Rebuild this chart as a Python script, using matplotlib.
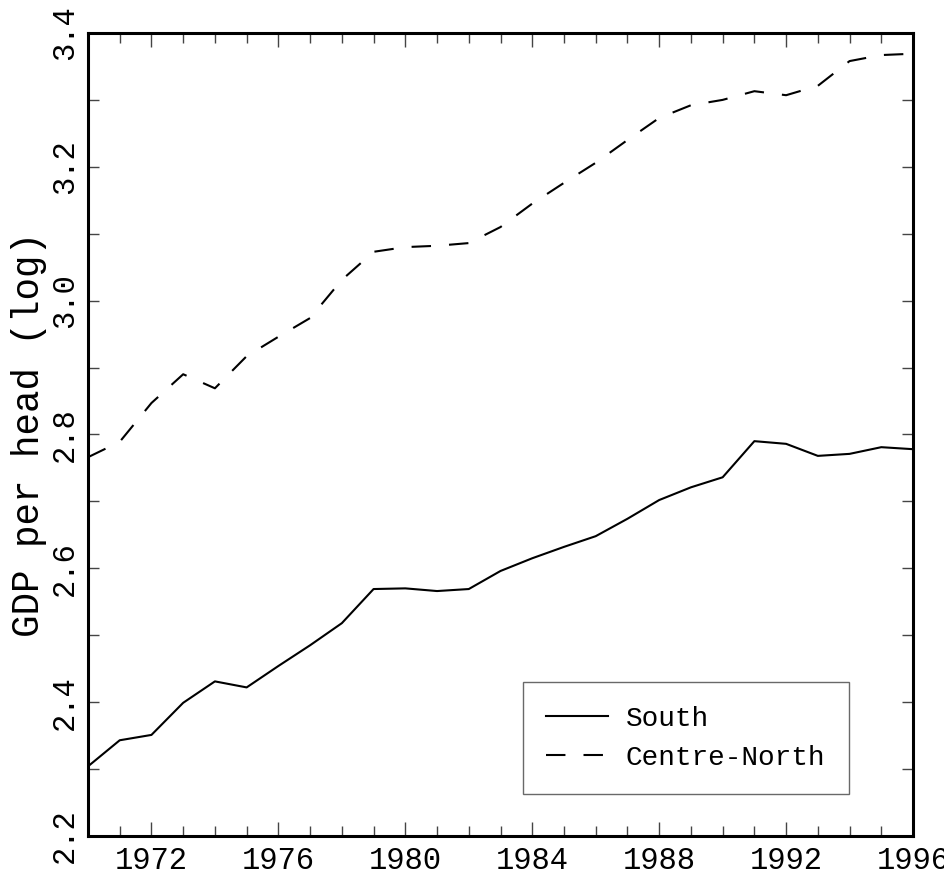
import numpy as np
import matplotlib.pyplot as plt
from matplotlib.ticker import MultipleLocator, FixedLocator

plt.rcParams['font.family'] = ['Liberation Mono', 'DejaVu Sans Mono']
plt.rcParams['lines.scale_dashes'] = False

years = np.arange(1970, 1997)
south = [2.304, 2.343, 2.351, 2.399, 2.431, 2.422, 2.454, 2.485, 2.518, 2.569,
         2.570, 2.566, 2.569, 2.596, 2.615, 2.632, 2.648, 2.674, 2.702, 2.721,
         2.736, 2.790, 2.786, 2.768, 2.771, 2.781, 2.778]
centre_north = [2.766, 2.789, 2.847, 2.890, 2.869, 2.917, 2.946, 2.974, 3.031, 3.073,
                3.080, 3.082, 3.086, 3.110, 3.145, 3.176, 3.206, 3.240, 3.273, 3.292,
                3.300, 3.313, 3.307, 3.321, 3.358, 3.367, 3.369]

fig = plt.figure(figsize=(9.44, 8.77), dpi=100)
ax = fig.add_axes([0.0932, 0.0468, 0.874, 0.9156])

ax.plot(years, south, color="black", lw=1.5, label="South")
ax.plot(years, centre_north, color="black", lw=1.5, dashes=(14, 13), label="Centre-North")

ax.set_xlim(1970, 1996)
ax.set_ylim(2.2, 3.4)

ax.xaxis.set_major_locator(FixedLocator(range(1972, 1997, 4)))
ax.xaxis.set_minor_locator(MultipleLocator(1))
ax.yaxis.set_major_locator(MultipleLocator(0.2))
ax.yaxis.set_minor_locator(MultipleLocator(0.1))

ax.tick_params(which="both", direction="in", top=True, right=True, width=1, color="#444444")
ax.tick_params(which="major", length=10, labelsize=22)
ax.tick_params(which="minor", length=7)
ax.tick_params(axis="y", which="both", length=8)
ax.tick_params(axis="x", pad=7)
ax.tick_params(axis="y", pad=6)

ax.set_yticks([2.2, 2.4, 2.6, 2.8, 3.0, 3.2, 3.4])
ax.set_yticklabels(["2.2", "2.4", "2.6", "2.8", "3.0", "3.2", "3.4"], rotation=90, va="center")
ax.set_ylabel("GDP per head (log)", fontsize=27, labelpad=2)

for s in ax.spines.values():
    s.set_linewidth(2.2)

leg = ax.legend(loc="lower right", bbox_to_anchor=(0.922, 0.052), borderaxespad=0,
                fontsize=20, frameon=True, fancybox=False, edgecolor="#444444",
                handlelength=2.2, handletextpad=0.65, borderpad=0.85, labelspacing=0.45)
leg.get_frame().set_linewidth(1)

fig.savefig("out.png", dpi=100)
